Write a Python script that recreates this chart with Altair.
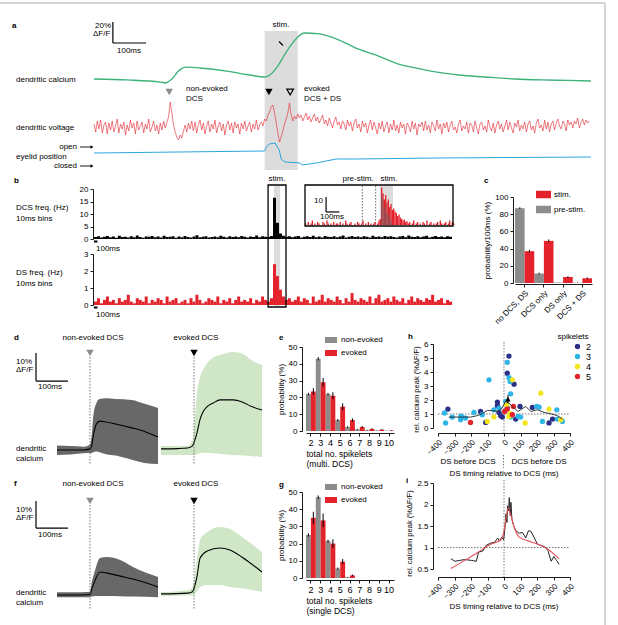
import altair as alt
import pandas as pd

FONT = "Liberation Sans"
RED = "#e3222b"
GRAY = "#8c8c8c"
GREEN = "#3cb27a"
BLUE = "#2aa5dc"
BAND_GRAY = "#686868"
BAND_GREEN = "#cfe7c7"
STIM_GRAY = "#dcdcdc"
NAVY = "#2b2f85"
CYAN = "#2cb5e6"
YELLOW = "#f2e51b"

# ======================= DATA =======================
# --- a: example traces (time in ms) ---
ca_t = [0, 100, 200, 215, 235, 255, 278, 320, 400, 470, 515, 535, 555, 575, 595,
        615, 635, 680, 740, 790, 850, 910, 970, 1030, 1100, 1180, 1270, 1350, 1430, 1500]
ca_v = [1.9, 1.0, -1.0, -1.9, 1.9, 9.5, 13.3, 12.4, 9.5, 5.7, 3.8, 6.7, 14.3, 24.8, 34.3,
        41.9, 45.7, 44.8, 39.0, 31.4, 24.8, 17.1, 12.4, 8.6, 5.7, 3.8, 1.9, 1.0, 0.5, 0.0]
volt_dt = 5
volt = [3, -5, 6, -2, 7, -6, 2, 5, -7, 4,
        -3, 6, -5, 1, 8, -6, 3, -2, 5, -8,
        2, -4, 7, -1, 4, -7, 6, -3, 1, 5,
        -6, 3, -2, 8, -5, 0, 6, -4, 2, -7,
        4, -3, 6, -1, 5, 10, 25, 14, 2, -5,
        -10, -13, -8, -11, -4, 2, -5, 4, -2, 6,
        -4, 5, -6, 2, 7, -3, 4, -7, 1, 6,
        -5, 3, -2, 7, -6, 1, 5, -4, 3, -8,
        2, 6, -3, 4, -6, 5, -1, 3, -7, 4,
        -2, 6, -4, 1, 5, -5, 3, -2, 7, -3,
        2, 5, 1, 8, 6, 12, 15, 20, 22, 14,
        4, -6, -15, -10, -4, 3, 8, 14, 24, 12,
        6, 11, 8, 13, 9, 12, 6, 10, 14, 7,
        11, 5, 9, 13, 6, 10, 4, 8, 12, 3,
        7, 1, 9, 4, -1, 6, 10, 2, 5, -2,
        6, 3, -3, 7, 1, 5, -4, 4, 8, -1,
        3, -5, 6, 0, 4, -6, 2, 7, -3, 5,
        -1, -7, 4, -2, 6, -5, 1, 5, -6, 3,
        -3, 7, -4, 2, -6, 5, -1, 3, -7, 4,
        1, -5, 6, -2, 4, -8, 3, 0, 5, -4,
        6, -3, 2, -6, 5, 1, -4, 7, -2, 3,
        -7, 4, -1, 5, -5, 2, 6, -3, 0, -6,
        3, 7, -4, 1, -2, 5, -6, 4, 2, -5,
        6, -1, -7, 3, 5, -3, 1, -5, 7, 0,
        -4, 4, -6, 2, 6, -2, 3, -5, 1, 7,
        -3, 5, -1, -6, 4, 0, 7, -4, 2, -2,
        5, -5, 3, 6, -3, 1, -6, 4, 8, -1,
        2, -4, 7, -2, 5, -5, 3, 6, -3, 4,
        8, 1, -2, 6, 3, -4, 7, 2, 5, -1,
        6, 3, 9, -1, 5, 8, 2, 7, 4, 6]
eye_t = [0, 515, 520, 529, 547, 553, 559, 565, 577, 622, 628, 671, 731, 792, 1030, 1500]
eye_v = [0, 2, 6, 9, 10, 6, 3, -6, -9, -10, -12, -10, -6, -6, -5, -4]
a_stim = [515, 615]
a_marks = [227, 528, 592]          # non-evoked DCS, evoked DCS, DS

# --- b: PSTHs (Hz) ---
b_bin = 85
dcs_rate = [0.8, 1.1, 0.6, 0.9, 1.2, 0.7, 1.0, 0.5, 1.3, 0.8,
            0.9, 0.6, 1.1, 0.7, 1.4, 0.8, 0.5, 1.0, 0.9, 1.2,
            0.7, 1.0, 0.6, 1.3, 0.8, 0.9, 1.1, 0.5, 1.0, 0.7,
            1.2, 0.8, 0.6, 1.0, 1.5, 0.7, 0.9, 1.1, 0.6, 0.8,
            1.0, 0.7, 1.3, 0.9, 0.6, 1.1, 0.8, 1.0, 0.7, 1.2,
            0.9, 0.6, 1.0, 0.8, 1.4, 0.7, 1.1, 0.9, 0.8, 1.2,
            16.5, 6.5, 2.2, 1.3, 0.9, 1.1, 0.7, 1.0, 1.2, 0.6,
            0.9, 1.1, 0.8, 1.3, 0.7, 1.0, 0.6, 1.2, 0.9, 0.8,
            1.1, 0.7, 1.0, 1.4, 0.6, 0.9, 1.2, 0.8, 1.0, 0.7,
            1.1, 0.9, 0.6, 1.3, 0.8, 1.0, 0.7, 1.2, 0.9, 1.1,
            0.8, 0.6, 1.0, 1.2, 0.7, 1.4, 0.9, 0.8, 1.1, 0.7,
            1.0, 1.3, 0.6, 0.9, 1.2, 0.8, 1.0, 0.7, 1.1, 0.9]
ds_rate = [0.2, 0.4, 0.1, 0.3, 0.5, 0.2, 0.3, 0.1, 0.4, 0.2,
           0.3, 0.6, 0.2, 0.1, 0.4, 0.3, 0.2, 0.5, 0.1, 0.3,
           0.2, 0.4, 0.3, 0.1, 0.5, 0.2, 0.3, 0.4, 0.1, 0.2,
           0.3, 0.1, 0.4, 0.2, 0.6, 0.3, 0.1, 0.2, 0.4, 0.3,
           0.2, 0.5, 0.1, 0.3, 0.2, 0.4, 0.1, 0.3, 0.5, 0.2,
           0.3, 0.2, 0.4, 0.1, 0.3, 0.2, 0.5, 0.3, 0.2, 0.4,
           2.4, 1.7, 0.9, 0.5, 0.3, 0.4, 0.2, 0.3, 0.5, 0.2,
           0.4, 0.3, 0.1, 0.5, 0.2, 0.3, 0.6, 0.2, 0.4, 0.3,
           0.2, 0.5, 0.3, 0.1, 0.4, 0.2, 0.7, 0.3, 0.2, 0.4,
           0.3, 0.2, 0.5, 0.1, 0.4, 0.6, 0.2, 0.3, 0.4, 0.2,
           0.5, 0.3, 0.2, 0.4, 0.1, 0.3, 0.5, 0.2, 0.4, 0.3,
           0.2, 0.4, 0.3, 0.6, 0.2, 0.3, 0.4, 0.1, 0.3, 0.2]
b_stim = [5130, 5300]
b_box = [4960, 5470]
inset_t0 = -560
inset_bin = 10
inset_ds = [1, 0, 2, 0, 1, 3, 0, 1,
            0, 2, 1, 0, 0, 2, 1, 0,
            3, 1, 0, 1, 0, 2, 0, 1,
            1, 0, 2, 0, 1, 0, 3, 1,
            0, 1, 2, 0, 0, 1, 0, 2,
            1, 0, 1, 3, 0, 1, 0, 2,
            0, 1, 0, 1, 2, 0, 1, 3,
            4, 25, 21, 17, 20, 15, 17, 12,
            14, 10, 11, 9, 8, 6, 7, 5,
            4, 3, 3.5, 2, 2.5, 1, 2, 0,
            1, 3, 0, 1, 2, 0, 1, 0,
            2, 1, 0, 3, 0, 1, 2, 0,
            1, 0, 1, 2, 0, 3, 1, 0,
            1, 2, 0, 1, 3, 0, 2, 1]
inset_dcs_t = [10, 20, 30, 40, 50, 60, 70, 80]
inset_dcs = [20, 17, 11, 13, 8, 7, 5, 3]
inset_pre = [-130, -30]
inset_stim = [0, 100]

# --- c ---
c_cats = ["no DCS, DS", "DCS only", "DS only", "DCS + DS"]
c_pre = [87, 11, 0.4, 0.3]
c_pre_err = [1.0, 1.0, 0.2, 0.2]
c_stim = [37, 49, 7, 5.5]
c_stim_err = [1.6, 1.6, 0.9, 0.9]

# --- d / f : mean +- spread of dendritic calcium (%dF/F) ---
dg_t = [-103, -60, -20, 0, 5, 10, 20, 30, 50, 80, 130, 170, 212]
dg_lo = [-1.8, -1.6, -1.2, -1.1, -1.1, -0.8, -0.5, -0.8, -1.5, -2.0, -3.5, -4.6, -5.0]
dg_m = [0, 0, 0, 0.4, 1.5, 5.0, 9.3, 10.3, 10.0, 9.3, 7.9, 6.6, 4.6]
dg_hi = [1.6, 1.4, 1.2, 2.0, 5.0, 12.0, 16.8, 18.2, 18.5, 18.2, 17.9, 16.5, 15.0]
dk_t = [-103, -50, -20, -5, 3, 9, 19, 30, 41, 60, 81, 122, 153, 180, 212]
dk_lo = [-1.8, -1.8, -1.8, -1.8, -1.8, -1.5, -1.2, -1.0, -1.0, -1.2, -1.4, -1.8, -2.0, -2.2, -2.5]
dk_m = [0.4, 0.5, 0.7, 1.5, 3.6, 6.0, 11.0, 14.0, 15.5, 16.8, 17.9, 17.9, 17.0, 15.5, 14.3]
dk_hi = [1.4, 1.4, 1.4, 3.6, 12, 20, 26, 29, 31, 33, 33.9, 35, 34.3, 32, 30.4]
fg_t = [-103, -50, 0, 5, 16, 31, 53, 94, 134, 212]
fg_lo = [-0.8, -0.8, -0.8, -0.6, -0.4, -0.4, -0.4, -0.5, -0.6, -0.8]
fg_m = [0.0, 0.0, 0.2, 2.0, 5.5, 8.5, 8.1, 7.0, 5.9, 3.0]
fg_hi = [1.0, 1.0, 1.2, 4.5, 9.3, 13.7, 14.1, 13.0, 10.4, 6.7]
fk_t = [-103, -20, -5, 9, 19, 41, 81, 112, 150, 212]
fk_lo = [-0.4, -0.2, -0.2, 1.5, 3.0, 3.7, 3.7, 3.0, 2.5, 1.1]
fk_m = [0.4, 0.7, 1.2, 6.7, 13.7, 16.3, 17.4, 16.7, 14.0, 8.5]
fk_hi = [1.1, 1.8, 3.0, 13, 20.4, 23.3, 25.2, 24.4, 21.5, 15.9]

# --- e / g : spikelet distributions (%) ---
sp_cats = ["2", "3", "4", "5", "6", "7", "8", "9", "10"]
e_non = [22, 43, 22, 6.5, 2.4, 0.9, 0.5, 0.3, 0.1]
e_non_err = [0.7, 1.0, 0.7, 0.6, 0.4, 0.3, 0.2, 0.1, 0.1]
e_evo = [23.5, 29, 21, 14.5, 6.5, 2.4, 1.2, 0.8, 0.3]
e_evo_err = [2.0, 2.5, 2.0, 2.0, 1.0, 0.6, 0.4, 0.3, 0.2]
g_non = [25, 47, 21.5, 5.5, 0.4, 0, 0, 0, 0]
g_non_err = [1.0, 1.0, 0.8, 0.6, 0.2, 0, 0, 0, 0]
g_evo = [35, 33.5, 20, 9.5, 1.5, 0, 0, 0, 0]
g_evo_err = [3.5, 4.0, 2.5, 1.5, 0.5, 0, 0, 0, 0]

# --- h : rel. calcium peak vs DS timing ---
h_pts = {
    "2": ([30, 20, 61, -340, -142, -40, -40, -30, -20, -111, 97, 172, 273, 294, 71, -10, 20],
          [5.14, 3.91, 3.13, 1.35, 1.18, 1.85, 1.59, 1.11, 0.88, 0.40, 1.54, 1.47, 0.36, 0.64, 0.64, 0.78, 1.42]),
    "3": ([20, -91, 30, 37, 40, -354, -360, -314, -263, -253, -233, -182, -132, -61, -30, 85, 101,
           198, 213, 233, 320, 324, 354, 40, 10, -262],
          [4.69, 3.44, 3.60, 3.32, 2.44, 0.36, 1.07, 0.78, 0.59, 0.78, 0.71, 1.11, 0.95, 1.30, 1.42, 0.83, 0.78,
           1.54, 1.49, 0.47, 1.30, 0.64, 0.47, 0.78, 1.90, 0.85]),
    "4": ([51, 223, -61, -101, 30, 37, 128, 273, 344, 16],
          [3.44, 2.49, 0.78, 0.47, 0.83, 1.02, 0.36, 1.35, 0.59, 1.66]),
    "5": ([-203, 20, 57, 51, 4],
          [0.40, 1.35, 1.54, 0.95, 1.18]),
}
h_mean = (24, 2.06, 0.3)
h_avg_x = [-334, -263, -203, -162, -132, -101, -71, -40, -16, 10, 30, 51, 85, 132, 162, 203, 243, 284, 324, 354]
h_avg_y = [0.78, 0.78, 0.78, 0.88, 1.02, 1.26, 1.23, 1.18, 1.35, 1.9, 1.78, 1.54, 1.18, 1.54, 1.18, 1.30, 1.11, 1.02, 0.88, 0.64]

# --- i : binned average and fit ---
i_x = [-322, -298, -268, -238, -198, -168, -154, -128, -108, -82, -58, -38, -28, -14, -2, 6, 12, 18, 22, 28,
       32, 38, 42, 48, 58, 72, 92, 112, 132, 148, 162, 182, 202, 222, 246, 266, 286, 302, 318, 334]
i_y = [0.74, 0.68, 0.70, 0.72, 0.70, 0.68, 0.89, 0.92, 1.05, 1.10, 1.12, 1.22, 1.15, 1.24, 1.18, 1.47, 1.78, 1.58,
       1.97, 1.85, 2.16, 1.74, 2.05, 1.66, 1.51, 1.39, 1.33, 1.35, 1.22, 1.39, 1.38, 1.24, 1.08, 1.05, 1.02,
       0.93, 0.68, 0.79, 0.70, 0.61]
fit_x = [-322, -238, -158, -78, -18, -2, 12, 26, 42, 62, 92, 142, 202, 262, 322, 334]
fit_y = [0.51, 0.70, 0.89, 1.08, 1.18, 1.35, 1.66, 1.93, 1.74, 1.47, 1.24, 1.16, 1.08, 0.97, 0.78, 0.74]


# ======================= HELPERS =======================
def lin(dom, rng):
    return alt.Scale(domain=dom, range=rng, nice=False, zero=False)


def bandsc(dom, rng):
    return alt.Scale(type="band", domain=dom, range=rng, paddingInner=0, paddingOuter=0)


def text(s, x, y, size=8, align="left", bold=False, angle=None, color="black"):
    kw = dict(align=align, baseline="middle", fontSize=size, font=FONT, color=color)
    if bold:
        kw["fontWeight"] = "bold"
    if angle is not None:
        kw["angle"] = angle
    return alt.Chart(pd.DataFrame({"s": [s]})).mark_text(**kw).encode(
        x=alt.value(x), y=alt.value(y), text="s:N")


def prule(x1, y1, x2, y2, color="black", w=1.0, dash=None):
    kw = dict(color=color, strokeWidth=w)
    if dash:
        kw["strokeDash"] = dash
    return alt.Chart(pd.DataFrame({"k": [0]})).mark_rule(**kw).encode(
        x=alt.value(x1), x2=alt.value(x2), y=alt.value(y1), y2=alt.value(y2))


def one(**cols):
    return pd.DataFrame({k: [v] for k, v in cols.items()})


layers = []
L = layers.append

# frame
L(prule(0, 3, 605, 3, color="#c8c8c8", w=1.5))
L(prule(605, 3, 605, 625, color="#c8c8c8", w=1.5))

# ======================= PANEL a =======================
xa = lin([0, 1500], [94, 591])
ya_ca = lin([0, 60], [81, 18])
ya_v = lin([-30, 30], [157, 97])
ya_e = lin([-15, 15], [168, 138])

L(alt.Chart(one(a=a_stim[0], b=a_stim[1])).mark_rect(color=STIM_GRAY).encode(
    x=alt.X("a:Q", scale=xa, axis=None), x2="b:Q", y=alt.value(31), y2=alt.value(170)))
L(alt.Chart(pd.DataFrame({"t": ca_t, "v": ca_v})).mark_line(
    color=GREEN, strokeWidth=1.3, interpolate="monotone").encode(
    x=alt.X("t:Q", scale=xa, axis=None), y=alt.Y("v:Q", scale=ya_ca, axis=None)))
L(alt.Chart(pd.DataFrame({"t": [i * volt_dt for i in range(len(volt))], "v": volt})).mark_line(
    color=RED, strokeWidth=0.6).encode(
    x=alt.X("t:Q", scale=xa, axis=None), y=alt.Y("v:Q", scale=ya_v, axis=None)))
L(alt.Chart(pd.DataFrame({"t": eye_t, "v": eye_v})).mark_line(
    color=BLUE, strokeWidth=1.0).encode(
    x=alt.X("t:Q", scale=xa, axis=None), y=alt.Y("v:Q", scale=ya_e, axis=None)))
# scale bar 20% / 100 ms
L(alt.Chart(one(t=57, v0=36.2, v1=56.2)).mark_rule(color="black", strokeWidth=1.2).encode(
    x=alt.X("t:Q", scale=xa, axis=None), y=alt.Y("v0:Q", scale=ya_ca, axis=None), y2="v1:Q"))
L(alt.Chart(one(t0=57, t1=157, v=36.2)).mark_rule(color="black", strokeWidth=1.2).encode(
    x=alt.X("t0:Q", scale=xa, axis=None), x2="t1:Q", y=alt.Y("v:Q", scale=ya_ca, axis=None)))
# event markers
L(alt.Chart(one(t=a_marks[0])).mark_point(shape="triangle-down", filled=True, size=55, color=GRAY, opacity=1).encode(
    x=alt.X("t:Q", scale=xa, axis=None), y=alt.value(92)))
L(alt.Chart(one(t=a_marks[1])).mark_point(shape="triangle-down", filled=True, size=55, color="black", opacity=1).encode(
    x=alt.X("t:Q", scale=xa, axis=None), y=alt.value(92)))
L(alt.Chart(one(t=a_marks[2])).mark_point(shape="triangle-down", filled=False, size=45, color="black",
                                          strokeWidth=1.2, opacity=1).encode(
    x=alt.X("t:Q", scale=xa, axis=None), y=alt.value(92)))
L(prule(279, 41.5, 283, 45.5, w=1.2))
# eyelid arrows
L(prule(80, 147, 91, 147, w=0.9))
L(prule(80, 166, 91, 166, w=0.9))
for yy in (147, 166):
    L(alt.Chart(one(k=0)).mark_point(shape="triangle-right", filled=True, size=12, color="black", opacity=1).encode(
        x=alt.value(92), y=alt.value(yy)))

for s, x, y, kw in [
    ("a", 12, 26, dict(bold=True)), ("20%", 95, 26, {}), ("ΔF/F", 93, 34, {}), ("100ms", 117, 51, {}),
    ("stim.", 281, 25, dict(align="center")), ("dendritic calcium", 16, 80, {}),
    ("non-evoked", 186, 89, {}), ("DCS", 186, 99, {}), ("evoked", 304, 89, {}), ("DCS + DS", 304, 99, {}),
    ("dendritic voltage", 16, 128, {}), ("open", 77, 147, dict(align="right")),
    ("eyelid position", 16, 157, {}), ("closed", 77, 166, dict(align="right")),
]:
    L(text(s, x, y, **kw))

# ======================= PANEL b =======================
xb = lin([0, 10200], [94, 452])
yb1 = lin([0, 20], [239, 189])
yb2 = lin([0, 3], [305, 254])
L(alt.Chart(one(a=b_stim[0], b=b_stim[1])).mark_rect(color=STIM_GRAY).encode(
    x=alt.X("a:Q", scale=xb, axis=None), x2="b:Q", y=alt.value(186), y2=alt.value(306)))
dcs_df = pd.DataFrame({"s": [i * b_bin for i in range(len(dcs_rate))],
                       "e": [(i + 1) * b_bin for i in range(len(dcs_rate))], "v": dcs_rate, "z": 0})
ds_df = pd.DataFrame({"s": [i * b_bin for i in range(len(ds_rate))],
                      "e": [(i + 1) * b_bin for i in range(len(ds_rate))], "v": ds_rate, "z": 0})
L(alt.Chart(dcs_df).mark_rect(color="black").encode(
    x=alt.X("s:Q", scale=xb, axis=None), x2="e:Q",
    y=alt.Y("v:Q", scale=yb1, axis=alt.Axis(orient="left", offset=-93, values=[0, 5, 10, 15, 20], title=None)),
    y2="z:Q"))
L(alt.Chart(ds_df).mark_rect(color=RED).encode(
    x=alt.X("s:Q", scale=xb, axis=None), x2="e:Q",
    y=alt.Y("v:Q", scale=yb2, axis=alt.Axis(orient="left", offset=-93, values=[0, 1, 2, 3], title=None)),
    y2="z:Q"))
L(alt.Chart(one(a=b_box[0], b=b_box[1])).mark_rect(fillOpacity=0, stroke="black", strokeWidth=1.3).encode(
    x=alt.X("a:Q", scale=xb, axis=None), x2="b:Q", y=alt.value(185), y2=alt.value(307)))
for yy in (241.5, 307.5):
    L(alt.Chart(one(a=0, b=100)).mark_rule(color="black", strokeWidth=2).encode(
        x=alt.X("a:Q", scale=xb, axis=None), x2="b:Q", y=alt.value(yy)))

# inset
xi = lin([-560, 550], [305, 453])
yi = lin([0, 27], [225, 184.5])
L(alt.Chart(one(a=-560, b=550)).mark_rect(color="white").encode(
    x=alt.X("a:Q", scale=xi, axis=None), x2="b:Q", y=alt.value(185), y2=alt.value(226)))
L(alt.Chart(one(a=inset_stim[0], b=inset_stim[1])).mark_rect(color=STIM_GRAY).encode(
    x=alt.X("a:Q", scale=xi, axis=None), x2="b:Q", y=alt.value(186), y2=alt.value(225)))
L(alt.Chart(pd.DataFrame({"t": inset_pre})).mark_rule(color="#444", strokeWidth=0.8, strokeDash=[1.5, 1.5]).encode(
    x=alt.X("t:Q", scale=xi, axis=None), y=alt.value(186), y2=alt.value(225)))
ins_df = pd.DataFrame({"s": [inset_t0 + i * inset_bin for i in range(len(inset_ds))],
                       "e": [inset_t0 + (i + 1) * inset_bin for i in range(len(inset_ds))],
                       "v": inset_ds, "z": 0})
L(alt.Chart(ins_df).mark_rect(color=RED).encode(
    x=alt.X("s:Q", scale=xi, axis=None), x2="e:Q", y=alt.Y("v:Q", scale=yi, axis=None), y2="z:Q"))
insd_df = pd.DataFrame({"s": inset_dcs_t, "e": [t + inset_bin for t in inset_dcs_t], "v": inset_dcs, "z": 0})
L(alt.Chart(insd_df).mark_rect(color="#6e6060", opacity=0.55).encode(
    x=alt.X("s:Q", scale=xi, axis=None), x2="e:Q", y=alt.Y("v:Q", scale=yi, axis=None), y2="z:Q"))
L(alt.Chart(one(t=-402, v0=8.7, v1=18.7)).mark_rule(color="black", strokeWidth=1.2).encode(
    x=alt.X("t:Q", scale=xi, axis=None), y=alt.Y("v0:Q", scale=yi, axis=None), y2="v1:Q"))
L(alt.Chart(one(t0=-402, t1=-302, v=8.7)).mark_rule(color="black", strokeWidth=1.2).encode(
    x=alt.X("t0:Q", scale=xi, axis=None), x2="t1:Q", y=alt.Y("v:Q", scale=yi, axis=None)))
L(alt.Chart(one(a=-560, b=550)).mark_rect(fillOpacity=0, stroke="black", strokeWidth=1.3).encode(
    x=alt.X("a:Q", scale=xi, axis=None), x2="b:Q", y=alt.value(185), y2=alt.value(226)))

for s, x, y, kw in [
    ("b", 14, 181, dict(bold=True)), ("stim.", 277, 179, dict(align="center")),
    ("pre-stim.", 358, 179, dict(align="center")), ("stim.", 389, 179, dict(align="center")),
    ("DCS freq. (Hz)", 16, 208, {}), ("10ms bins", 16, 219, {}), ("100ms", 96, 249, {}),
    ("DS freq. (Hz)", 16, 273, {}), ("10ms bins", 16, 284, {}), ("100ms", 96, 315, {}),
    ("10", 323, 201, dict(align="right")), ("100ms", 320, 217, {}),
]:
    L(text(s, x, y, **kw))

# ======================= PANEL c =======================
xc = bandsc(c_cats, [515, 592])
yc = lin([0, 100], [283, 197])
c_df = pd.DataFrame({
    "cat": c_cats * 2,
    "cond": ["pre-stim."] * 4 + ["stim."] * 4,
    "v": c_pre + c_stim,
    "err": c_pre_err + c_stim_err,
})
c_df["lo"] = c_df["v"] - c_df["err"]
c_df["hi"] = c_df["v"] + c_df["err"]
xoff_c = alt.XOffset("cond:N", scale=alt.Scale(domain=["pre-stim.", "stim."], paddingInner=0, paddingOuter=0))
L(alt.Chart(c_df).mark_bar().encode(
    x=alt.X("cat:N", scale=xc, axis=alt.Axis(orient="bottom", offset=284 - 625, labelAngle=-45,
                                              title=None, labelFontSize=8)),
    xOffset=xoff_c,
    y=alt.Y("v:Q", scale=yc, axis=alt.Axis(orient="left", offset=-513, values=[0, 20, 40, 60, 80, 100],
                                            title="probability/100ms (%)", titlePadding=3)),
    color=alt.Color("cond:N", scale=alt.Scale(domain=["stim.", "pre-stim."], range=[RED, GRAY]),
                    legend=alt.Legend(orient="none", legendX=536, legendY=187, title=None, direction="vertical",
                                      symbolType="M-1,-0.5L1,-0.5L1,0.5L-1,0.5Z", symbolSize=225,
                                      symbolStrokeWidth=0, rowPadding=3, labelOffset=3))))
L(alt.Chart(c_df).mark_rule(color="black", strokeWidth=1).encode(
    x=alt.X("cat:N", scale=xc, axis=None), xOffset=xoff_c,
    y=alt.Y("lo:Q", scale=yc, axis=None), y2="hi:Q"))
L(text("c", 484, 181, bold=True))

# ======================= PANELS d / f =======================
def band_panel(t, lo, m, hi, xs, ys, fill):
    df = pd.DataFrame({"t": t, "lo": lo, "m": m, "hi": hi})
    area = alt.Chart(df).mark_area(color=fill, opacity=1, interpolate="monotone").encode(
        x=alt.X("t:Q", scale=xs, axis=None), y=alt.Y("lo:Q", scale=ys, axis=None), y2="hi:Q")
    line = alt.Chart(df).mark_line(color="black", strokeWidth=1.1, interpolate="monotone").encode(
        x=alt.X("t:Q", scale=xs, axis=None), y=alt.Y("m:Q", scale=ys, axis=None))
    return [area, line]


xdg = lin([-103, 212], [57, 158])
xdk = lin([-103, 212], [161, 262])
yd = lin([-5, 36], [464, 349.2])
yf = lin([-1, 26], [597.7, 524.8])

for (tg, lg, mg, hg, tk, lk, mk, hk, ys, ytop, ybot, sb0, row_y, lab_y) in [
    (dg_t, dg_lo, dg_m, dg_hi, dk_t, dk_lo, dk_m, dk_hi, yd, 353, 464, 24.6, 338, 449),
    (fg_t, fg_lo, fg_m, fg_hi, fk_t, fk_lo, fk_m, fk_hi, yf, 501, 610, 24.8, 484, 593),
]:
    for lay in band_panel(tg, lg, mg, hg, xdg, ys, BAND_GRAY):
        L(lay)
    for lay in band_panel(tk, lk, mk, hk, xdk, ys, BAND_GREEN):
        L(lay)
    for xs, col in ((xdg, GRAY), (xdk, "black")):
        L(alt.Chart(one(t=0)).mark_rule(color="#555", strokeWidth=0.8, strokeDash=[1.5, 1.5]).encode(
            x=alt.X("t:Q", scale=xs, axis=None), y=alt.value(ytop + 4), y2=alt.value(ybot)))
        L(alt.Chart(one(t=0)).mark_point(shape="triangle-down", filled=True, size=55, color=col, opacity=1).encode(
            x=alt.X("t:Q", scale=xs, axis=None), y=alt.value(ytop)))
    # scale bar 10% / 100 ms
    L(alt.Chart(one(t=-168.5, v0=sb0, v1=sb0 + 10)).mark_rule(color="black", strokeWidth=1.2).encode(
        x=alt.X("t:Q", scale=xdg, axis=None), y=alt.Y("v0:Q", scale=ys, axis=None), y2="v1:Q"))
    L(alt.Chart(one(t0=-168.5, t1=-68.5, v=sb0)).mark_rule(color="black", strokeWidth=1.2).encode(
        x=alt.X("t0:Q", scale=xdg, axis=None), x2="t1:Q", y=alt.Y("v:Q", scale=ys, axis=None)))
    L(text("non-evoked DCS", 93, row_y, align="center"))
    L(text("evoked DCS", 196, row_y, align="center"))
    L(text("10%", 16, ytop + 9))
    L(text("ΔF/F", 16, ytop + 17))
    L(text("100ms", 38, ytop + 34))
    L(text("dendritic", 16, lab_y))
    L(text("calcium", 16, lab_y + 10))

L(text("d", 14, 338, bold=True))
L(text("f", 14, 484, bold=True))

# ======================= PANELS e / g =======================
xe = bandsc(sp_cats, [306, 394])
xoff_e = alt.XOffset("grp:N", scale=alt.Scale(domain=["non-evoked", "evoked"], paddingInner=0, paddingOuter=0))
for (non, nerr, evo, eerr, y0, y1, ttl, ly, letter_y) in [
    (e_non, e_non_err, e_evo, e_evo_err, 431, 347, ["total no. spikelets", "(multi. DCS)"], 334, 338),
    (g_non, g_non_err, g_evo, g_evo_err, 578, 492, ["total no. spikelets", "(single DCS)"], 481, 485),
]:
    ys = lin([0, 50], [y0, y1])
    df = pd.DataFrame({"n": sp_cats * 2, "grp": ["non-evoked"] * 9 + ["evoked"] * 9,
                       "v": non + evo, "err": nerr + eerr})
    df["lo"] = df["v"] - df["err"]
    df["hi"] = df["v"] + df["err"]
    L(alt.Chart(df).mark_bar().encode(
        x=alt.X("n:N", scale=xe, axis=alt.Axis(orient="bottom", offset=y0 + 2 - 625, title=ttl, labelAngle=0,
                                                labelFontSize=9, titleAnchor="start", titleAlign="left",
                                                titlePadding=2, titleFontSize=8.5)),
        xOffset=xoff_e,
        y=alt.Y("v:Q", scale=ys, axis=alt.Axis(orient="left", offset=-302, values=[0, 10, 20, 30, 40, 50],
                                                title="probability (%)", titlePadding=3)),
        color=alt.Color("grp:N", scale=alt.Scale(domain=["non-evoked", "evoked"], range=[GRAY, RED]),
                        legend=alt.Legend(orient="none", legendX=325, legendY=ly, title=None, direction="vertical",
                                          symbolType="M-1,-0.5L1,-0.5L1,0.5L-1,0.5Z", symbolSize=144,
                                          symbolStrokeWidth=0, rowPadding=3, labelOffset=4))))
    L(alt.Chart(df[df["err"] > 0]).mark_rule(color="black", strokeWidth=1).encode(
        x=alt.X("n:N", scale=xe, axis=None), xOffset=xoff_e,
        y=alt.Y("lo:Q", scale=ys, axis=None), y2="hi:Q"))
    L(text("e" if letter_y == 338 else "g", 279, letter_y, bold=True))

# ======================= PANEL h =======================
xh = lin([-400, 400], [438, 570])
yh = lin([0, 6], [428, 344])
L(alt.Chart(one(t=0, a=-0.4, b=6.2)).mark_rule(color="#555", strokeWidth=0.8, strokeDash=[1.5, 1.5]).encode(
    x=alt.X("t:Q", scale=xh, axis=None), y=alt.Y("a:Q", scale=yh, axis=None), y2="b:Q"))
L(alt.Chart(one(a=-400, b=400, v=1)).mark_rule(color="#555", strokeWidth=0.8, strokeDash=[1.5, 1.5]).encode(
    x=alt.X("a:Q", scale=xh, axis=None), x2="b:Q", y=alt.Y("v:Q", scale=yh, axis=None)))
h_rows = []
for k, (xs_, ys_) in h_pts.items():
    for a, b in zip(xs_, ys_):
        h_rows.append({"x": a, "y": b, "n": k})
h_df = pd.DataFrame(h_rows)
L(alt.Chart(h_df).mark_circle(size=28, opacity=1).encode(
    x=alt.X("x:Q", scale=xh, axis=alt.Axis(orient="bottom", offset=433 - 625, values=list(range(-400, 401, 100)),
                                            labelAngle=-45, title=None, format="d", labelOverlap=False)),
    y=alt.Y("y:Q", scale=yh, axis=alt.Axis(orient="left", offset=-433, values=[0, 1, 2, 3, 4, 5, 6],
                                            title="rel. calcium peak (%ΔF/F)", titlePadding=3,
                                            titleFontSize=7.5, titleY=389)),
    color=alt.Color("n:N", scale=alt.Scale(domain=["2", "3", "4", "5"], range=[NAVY, CYAN, YELLOW, RED]),
                    legend=alt.Legend(orient="none", legendX=573, legendY=342, title=None, direction="vertical",
                                      symbolType="circle", symbolSize=28, rowPadding=0, labelOffset=4,
                                      labelFontSize=9))))
L(alt.Chart(pd.DataFrame({"x": h_avg_x, "y": h_avg_y})).mark_line(color="#222", strokeWidth=0.9).encode(
    x=alt.X("x:Q", scale=xh, axis=None), y=alt.Y("y:Q", scale=yh, axis=None)))
L(alt.Chart(one(x=h_mean[0], y=h_mean[1], lo=h_mean[1] - h_mean[2], hi=h_mean[1] + h_mean[2])).mark_rule(
    color="black", strokeWidth=1).encode(
    x=alt.X("x:Q", scale=xh, axis=None), y=alt.Y("lo:Q", scale=yh, axis=None), y2="hi:Q"))
L(alt.Chart(one(x=h_mean[0], y=h_mean[1])).mark_point(shape="triangle-up", filled=True, size=30,
                                                      color="black", opacity=1).encode(
    x=alt.X("x:Q", scale=xh, axis=None), y=alt.Y("y:Q", scale=yh, axis=None)))
for s, x, y, kw in [
    ("h", 408, 337, dict(bold=True)), ("spikelets", 573, 337, dict(align="center")),
    ("DS before DCS", 468, 462, dict(align="center")), ("DCS before DS", 539, 462, dict(align="center")),
    ("DS timing relative to DCS (ms)", 504, 474, dict(align="center")),
]:
    L(text(s, x, y, **kw))
L(prule(503.5, 455, 503.5, 468, color="#555", w=0.8, dash=[1.5, 1.5]))

# ======================= PANEL i =======================
yi2 = lin([0.5, 2.5], [569, 483])
L(alt.Chart(one(t=0)).mark_rule(color="#555", strokeWidth=0.8, strokeDash=[1.5, 1.5]).encode(
    x=alt.X("t:Q", scale=xh, axis=None), y=alt.value(480), y2=alt.value(577)))
L(alt.Chart(one(a=-400, b=400, v=1)).mark_rule(color="#555", strokeWidth=0.8, strokeDash=[1.5, 1.5]).encode(
    x=alt.X("a:Q", scale=xh, axis=None), x2="b:Q", y=alt.Y("v:Q", scale=yi2, axis=None)))
L(alt.Chart(pd.DataFrame({"x": i_x, "y": i_y})).mark_line(color="#222", strokeWidth=1).encode(
    x=alt.X("x:Q", scale=xh, axis=alt.Axis(orient="bottom", offset=577 - 625, values=list(range(-400, 401, 100)),
                                            labelAngle=-45, title=None, format="d", labelOverlap=False)),
    y=alt.Y("y:Q", scale=yi2, axis=alt.Axis(orient="left", offset=-433, values=[0.5, 1, 1.5, 2, 2.5],
                                             format="~g", title="rel. calcium peak (%ΔF/F)", titlePadding=3,
                                             titleFontSize=7.5, titleY=533))))
L(alt.Chart(pd.DataFrame({"x": fit_x, "y": fit_y})).mark_line(color="#e4535a", strokeWidth=1.1,
                                                              interpolate="monotone").encode(
    x=alt.X("x:Q", scale=xh, axis=None), y=alt.Y("y:Q", scale=yi2, axis=None)))
L(text("i", 406, 481, bold=True))
L(text("DS timing relative to DCS (ms)", 504, 607, align="center"))

# ======================= ASSEMBLE =======================
chart = alt.layer(*layers).resolve_scale(
    x="independent", y="independent", color="independent", xOffset="independent"
).properties(
    width=618, height=625, padding=0, autosize=alt.AutoSizeParams(type="none"), background="white"
).configure_view(stroke="transparent").configure_axis(
    grid=False, domainColor="black", tickColor="black", domainWidth=0.9, tickWidth=0.9, tickSize=3,
    labelFont=FONT, titleFont=FONT, labelFontSize=8, titleFontSize=8, labelColor="black",
    titleColor="black", titleFontWeight="normal", labelPadding=2
).configure_legend(labelFont=FONT, labelFontSize=8, labelColor="black", padding=0)

chart.save("out.html", embed_options={"renderer": "svg", "actions": False})
